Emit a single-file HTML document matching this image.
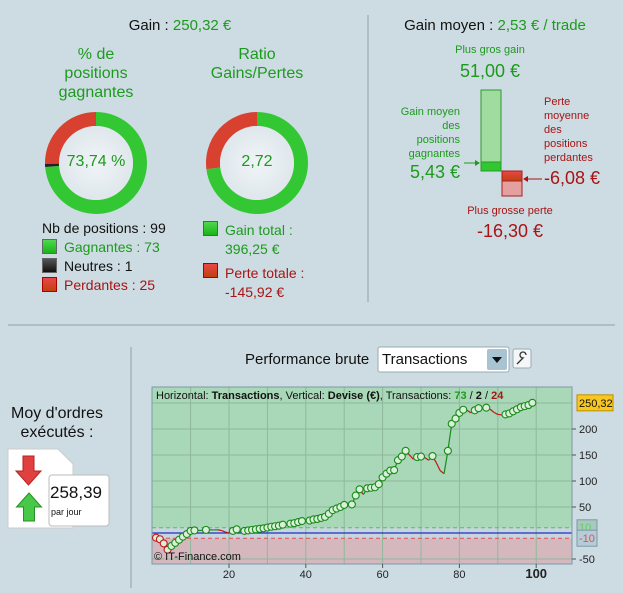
<!DOCTYPE html>
<html><head><meta charset="utf-8">
<style>
body{margin:0;width:623px;height:593px;background:#cddce3;font-family:"Liberation Sans",sans-serif;position:relative;overflow:hidden}
.t{position:absolute;white-space:nowrap}
.g{color:#1d9a1d}.r{color:#a81414}.k{color:#111}
.sq{position:absolute;width:13px;height:13px;border:1px solid #666}
</style></head><body>
<svg width="623" height="593" style="position:absolute;left:0;top:0">
<defs>
<linearGradient id="rg" x1="0" y1="0" x2="0" y2="1"><stop offset="0" stop-color="#e84848"/><stop offset="1" stop-color="#c04010"/></linearGradient>
<radialGradient id="cg"><stop offset="0" stop-color="#f0f4f7"/><stop offset="1" stop-color="#dfe7ec"/></radialGradient>
</defs>
<line x1="368" y1="15" x2="368" y2="302" stroke="#8aa0aa"/>
<line x1="8" y1="325" x2="615" y2="325" stroke="#8aa0aa"/>
<line x1="131" y1="347" x2="131" y2="588" stroke="#8aa0aa"/>
<g id="donuts"></g>
<rect x="481" y="90" width="20" height="81" fill="#a0dca0" stroke="#2a9a2a"/>
<rect x="481" y="162" width="20" height="9" fill="#30c830" stroke="#2a9a2a"/>
<rect x="502" y="171" width="20" height="25" fill="#e4a0a0" stroke="#a82020"/>
<rect x="502" y="171" width="20" height="10" fill="url(#rg)" stroke="#a82020"/>
<line x1="464" y1="163" x2="478" y2="163" stroke="#1d9a1d"/><path d="M480 163 l-5 -3 v6z" fill="#1d9a1d"/>
<line x1="526" y1="179" x2="542" y2="179" stroke="#a81414"/><path d="M523 179 l5 -3 v6z" fill="#a81414"/>
<path d="M8 449 h50 l15 15 v64 h-65z" fill="#fff" stroke="#ccc"/>
<path d="M23 456 h11 v15 h7 l-12.5 14 -12.5 -14 h7z" fill="#e04040" stroke="#b82020"/>
<path d="M29 493 l12.5 14 h-7 v14 h-11 v-14 h-7z" fill="#48c848" stroke="#259025"/>
<rect x="49" y="475" width="60" height="51" rx="3" fill="#fff" stroke="#bbb"/>
<rect x="378" y="347" width="131" height="25" rx="2" fill="#fff" stroke="#98aab4"/>
<rect x="487" y="349" width="20" height="21" rx="2" fill="#a8c4d2"/><path d="M492 357 h10 l-5 6z" fill="#111"/>
<rect x="513" y="349" width="18" height="19" rx="2" fill="#f4f6f8" stroke="#98aab4"/>
<path d="M517 364 l6 -6 a3 3 0 1 1 3 -3" fill="none" stroke="#333" stroke-width="1.3"/>
<g id="chart"></g>
</svg>

<div class="t k" style="left:0;width:360px;top:17px;text-align:center;font-size:15px">Gain : <span class="g">250,32 €</span></div>
<div class="t g" style="left:50px;width:92px;top:45px;text-align:center;font-size:16px;line-height:19px;white-space:normal">% de positions gagnantes</div>
<div class="t g" style="left:197px;width:120px;top:45px;text-align:center;font-size:16px;line-height:19px;white-space:normal">Ratio Gains/Pertes</div>
<div class="t g" style="left:46px;width:100px;top:153px;text-align:center;font-size:16px">73,74 %</div>
<div class="t g" style="left:207px;width:100px;top:153px;text-align:center;font-size:16px">2,72</div>

<div class="t k" style="left:42px;top:220px;font-size:14px">Nb de positions : 99</div>
<div class="sq" style="left:42px;top:239px;background:linear-gradient(#4fd84f,#18b418)"></div>
<div class="t g" style="left:64px;top:239px;font-size:14px">Gagnantes : 73</div>
<div class="sq" style="left:42px;top:258px;background:linear-gradient(#555,#111)"></div>
<div class="t k" style="left:64px;top:258px;font-size:14px">Neutres : 1</div>
<div class="sq" style="left:42px;top:277px;background:linear-gradient(#e84848,#c04010);border-color:#a00"></div>
<div class="t r" style="left:64px;top:277px;font-size:14px">Perdantes : 25</div>
<div class="sq" style="left:203px;top:221px;background:linear-gradient(#4fd84f,#18b418);border-color:#1a8a1a"></div>
<div class="t g" style="left:225px;top:221px;font-size:14px;line-height:19px">Gain total :<br>396,25 €</div>
<div class="sq" style="left:203px;top:263px;background:linear-gradient(#e84848,#c04010);border-color:#a00"></div>
<div class="t r" style="left:225px;top:264px;font-size:14px;line-height:19px">Perte totale :<br>-145,92 €</div>

<div class="t k" style="left:372px;width:246px;top:17px;text-align:center;font-size:15px">Gain moyen : <span class="g">2,53 € / trade</span></div>
<div class="t g" style="left:430px;width:120px;top:44px;text-align:center;font-size:11px">Plus gros gain</div>
<div class="t g" style="left:430px;width:120px;top:61px;text-align:center;font-size:18px">51,00 €</div>
<div class="t g" style="left:380px;width:80px;top:105px;text-align:right;font-size:11px;line-height:14px">Gain moyen<br>des<br>positions<br>gagnantes</div>
<div class="t g" style="left:380px;width:80px;top:162px;text-align:right;font-size:18px">5,43 €</div>
<div class="t r" style="left:544px;top:95px;font-size:11px;line-height:14px">Perte<br>moyenne<br>des<br>positions<br>perdantes</div>
<div class="t r" style="left:544px;top:168px;font-size:18px">-6,08 €</div>
<div class="t r" style="left:450px;width:120px;top:205px;text-align:center;font-size:11px">Plus grosse perte</div>
<div class="t r" style="left:450px;width:120px;top:221px;text-align:center;font-size:18px">-16,30 €</div>

<div class="t k" style="left:0;width:114px;top:404px;text-align:center;font-size:16px;line-height:19px">Moy d'ordres<br>exécutés :</div>
<div class="t k" style="left:50px;top:483px;font-size:17px">258,39</div>
<div class="t k" style="left:51px;top:507px;font-size:9px">par jour</div>

<div class="t k" style="left:245px;top:351px;font-size:15px">Performance brute</div>
<div class="t k" style="left:382px;top:351px;font-size:15px">Transactions</div>

<script>
const NS="http://www.w3.org/2000/svg";
function mk(tag,at,parent){const e=document.createElementNS(NS,tag);for(const k in at)e.setAttribute(k,at[k]);parent.appendChild(e);return e;}
const winPct=[73.74,1.01,25.25];
const ratioParts=[396.25,145.92];
const dg=document.getElementById('donuts');
function donut(cx,cy,vals,cols,name){
 const tot=vals.reduce((a,b)=>a+b,0);let a0=0;const R=44,w=14;
 vals.forEach((v,i)=>{const a1=a0+v/tot*2*Math.PI;
  const p=(a)=>[cx+R*Math.sin(a),cy-R*Math.cos(a)];
  const s=p(a0),e=p(a1);
  const el=mk('path',{d:`M${s[0]} ${s[1]} A${R} ${R} 0 ${a1-a0>Math.PI?1:0} 1 ${e[0]} ${e[1]}`,fill:'none',stroke:cols[i],'stroke-width':w},dg);
  
  
  a0=a1;});
 mk('circle',{cx,cy,r:37,fill:'url(#cg)'},dg);
}
donut(96,163,winPct,['#33c833','#222','#d84030'],'win-donut');
donut(257,163,ratioParts,['#33c833','#d84030'],'ratio-donut');

const values=[-9,-12,-20,-32,-25,-19,-13,-7,-2,4,5,5,5,6,6,6,6,5,2,0,4,7,3,4,5,6,7,8,9,10.5,12,13,14,16,16,18,19,21,23,23,24,26,27,29,31,37,44,47,50,54,54,55,72,84,74,86,87,88,94,107,114,120,121,140,147,158,150,142,146,147,145,140,148,135,120,114,158,210,220,231,237,236,231,236,240,240,241,238,232,228,227,228,230,234,238,242,244,246,250.32];
const yTicks=[-50,50,100,150,200];
const xTicks=[20,40,60,80,100];
const xs=n=>152.2+3.84*n, ys=v=>533-0.52*v;
const L=152,T=387,Rr=572,B=564;
const c=document.getElementById('chart');
let e=mk('rect',{x:L,y:T,width:Rr-L,height:ys(10)-T,fill:'#a8d8b8'},c);

e=mk('rect',{x:L,y:ys(-10),width:Rr-L,height:B-ys(-10),fill:'#d4b8be'},c);

mk('rect',{x:L,y:ys(10),width:Rr-L,height:ys(-10)-ys(10),fill:'#c8d4e0'},c);
for(let v=-50;v<=250;v+=50){if(v===0)continue;mk('line',{x1:L,x2:Rr,y1:ys(v),y2:ys(v),stroke:'#8fb89c','stroke-width':1},c);}
for(let n=10;n<=100;n+=10){mk('line',{x1:xs(n),x2:xs(n),y1:T,y2:B,stroke:'#8fb89c'},c);}
mk('line',{x1:L,x2:Rr,y1:ys(10),y2:ys(10),stroke:'#40d040','stroke-dasharray':'4 3'},c);
mk('line',{x1:L,x2:Rr,y1:ys(-10),y2:ys(-10),stroke:'#e05050','stroke-dasharray':'4 3'},c);
e=mk('line',{x1:L,x2:Rr,y1:ys(0),y2:ys(0),stroke:'#2030c0','stroke-width':1.3},c);

mk('rect',{x:L,y:T,width:Rr-L,height:B-T,fill:'none',stroke:'#7a9aa8'},c);
for(let i=1;i<values.length;i++){
 const up=values[i]>=values[i-1];
 const s=mk('line',{x1:xs(i),y1:ys(values[i-1]),x2:xs(i+1),y2:ys(values[i]),stroke:up?'#1a8a1a':'#c01818','stroke-width':1.2},c);
 
 
}
values.forEach((v,i)=>{
 const up=i===0?false:v>values[i-1];
 if(up||v<0){
  const p=mk('circle',{cx:xs(i+1),cy:ys(v),r:3.5,fill:'#d8f0d8',stroke:up?'#1a8a1a':'#c01818','stroke-width':1.1},c);
  
  
 }
});
yTicks.forEach(v=>{mk('line',{x1:Rr,x2:Rr+4,y1:ys(v),y2:ys(v),stroke:'#555'},c);
 const t=mk('text',{x:Rr+7,y:ys(v)+4,'font-size':11,fill:'#222','font-family':'Liberation Sans'},c);t.textContent=v;
 });
xTicks.forEach(n=>{mk('line',{x1:xs(n),x2:xs(n),y1:B,y2:B+4,stroke:'#555'},c);
 const t=mk('text',{x:xs(n),y:B+14,'text-anchor':'middle','font-size':n===100?13:11,'font-weight':n===100?'bold':'normal',fill:'#222','font-family':'Liberation Sans'},c);t.textContent=n;
 });
mk('rect',{x:577,y:ys(10)-8,width:20,height:13,fill:'#a8c8c0',stroke:'#7a9aa8'},c);
let tt=mk('text',{x:579,y:ys(10)+3,'font-size':11,fill:'#60d060','font-family':'Liberation Sans'},c);tt.textContent='10';
mk('rect',{x:577,y:ys(-10)-8,width:20,height:16,fill:'#b8ccd8',stroke:'#7a9aa8'},c);
tt=mk('text',{x:579,y:ys(-10)+4,'font-size':11,fill:'#e05050','font-family':'Liberation Sans'},c);tt.textContent='-10';
const last=values[values.length-1];
const tg=mk('rect',{x:577,y:ys(last)-8,width:36,height:16,fill:'#f8c820',stroke:'#b89000'},c);

tt=mk('text',{x:579,y:ys(last)+4,'font-size':11,fill:'#111','font-family':'Liberation Sans'},c);tt.textContent=last.toFixed(2).replace('.',',');
const h=mk('text',{x:156,y:399,'font-size':11,fill:'#111','font-family':'Liberation Sans'},c);

h.innerHTML='Horizontal: <tspan font-weight="bold">Transactions</tspan>, Vertical: <tspan font-weight="bold">Devise (€)</tspan>, Transactions: <tspan font-weight="bold" fill="#1d9a1d">73</tspan> / <tspan font-weight="bold">2</tspan> / <tspan font-weight="bold" fill="#a81414">24</tspan>';
const cp=mk('text',{x:154,y:560,'font-size':11,fill:'#111','font-family':'Liberation Sans'},c);cp.textContent='© IT-Finance.com';

</script>
</body></html>
